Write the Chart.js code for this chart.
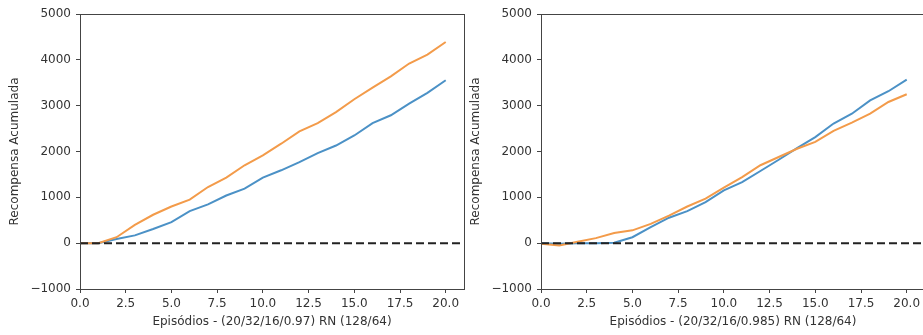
<!DOCTYPE html>
<html>
<head>
<meta charset="utf-8">
<script src="https://cdn.jsdelivr.net/npm/chart.js@4"></script>
<style>
  html, body { margin: 0; padding: 0; background: #fff; overflow: hidden; }
  body { width: 923px; height: 335px; position: relative; }
  canvas { position: absolute; top: 0; }
  #leftChart { left: 0; }
  #rightChart { left: 461px; }
</style>
</head>
<body>
<canvas id="leftChart" width="470" height="335"></canvas>
<canvas id="rightChart" width="470" height="335"></canvas>
<script>
  // episodios (x)
  const episodes = [0, 1, 2, 3, 4, 5, 6, 7, 8, 9, 10, 11, 12, 13, 14, 15, 16, 17, 18, 19, 20];

  // grafico esquerdo - (20/32/16/0.97)
  const leftBlue = [0, 0, 90, 170, 310, 460, 700, 845, 1040, 1190, 1430, 1590, 1770, 1965, 2130, 2350, 2620, 2790, 3045, 3280, 3555];
  const leftOrange = [0, 0, 130, 400, 620, 800, 950, 1225, 1430, 1700, 1915, 2170, 2440, 2620, 2860, 3140, 3395, 3640, 3920, 4115, 4390];

  // grafico direito - (20/32/16/0.985)
  const rightBlue = [0, -10, 0, 0, 10, 130, 350, 555, 700, 895, 1150, 1330, 1575, 1820, 2075, 2315, 2610, 2825, 3115, 3315, 3570];
  const rightOrange = [-10, -50, 30, 110, 220, 280, 420, 600, 800, 970, 1210, 1440, 1700, 1880, 2060, 2210, 2450, 2630, 2825, 3080, 3250];

  // eixos
  const xMin = 0;
  const xMax = 21;
  const xTickValues = [0, 2.5, 5, 7.5, 10, 12.5, 15, 17.5, 20];
  const yMin = -1000;
  const yMax = 5000;
  const yStep = 1000;
  const baseline = 0;

  const yTitle = "Recompensa Acumulada";
  const leftXTitle = "Episódios - (20/32/16/0.97) RN (128/64)";
  const rightXTitle = "Episódios - (20/32/16/0.985) RN (128/64)";

  const tickColor = "#333";
  const frameColor = "#444";

  const toPoints = (ys) => ys.map((y, i) => ({ x: episodes[i], y: y }));

  // moldura completa como no matplotlib
  const framePlugin = {
    id: "frame",
    afterDraw(chart) {
      const { ctx, chartArea } = chart;
      ctx.save();
      ctx.strokeStyle = frameColor;
      ctx.lineWidth = 1;
      ctx.strokeRect(
        Math.round(chartArea.left) + 0.5,
        Math.round(chartArea.top) + 0.5,
        Math.round(chartArea.right - chartArea.left),
        Math.round(chartArea.bottom - chartArea.top)
      );
      ctx.restore();
    },
  };

  function makeChart(canvasId, blue, orange, xTitle) {
    return new Chart(document.getElementById(canvasId), {
      type: "line",
      data: {
        datasets: [
          {
            label: "azul",
            data: toPoints(blue),
            borderColor: "#4b91c6",
            borderWidth: 2,
            pointRadius: 0,
            tension: 0,
            order: 2,
          },
          {
            label: "laranja",
            data: toPoints(orange),
            borderColor: "#f39b4a",
            borderWidth: 2,
            pointRadius: 0,
            tension: 0,
            order: 1,
          },
          {
            label: "zero",
            data: [
              { x: xMin, y: baseline },
              { x: xMax, y: baseline },
            ],
            borderColor: "#222",
            borderWidth: 2,
            borderDash: [8, 4],
            pointRadius: 0,
            order: 0,
          },
        ],
      },
      options: {
        responsive: false,
        animation: false,
        maintainAspectRatio: false,
        layout: { padding: { top: 14, right: 6, left: 0, bottom: 0 } },
        scales: {
          x: {
            type: "linear",
            min: xMin,
            max: xMax,
            grid: {
              drawOnChartArea: false,
              drawTicks: true,
              tickLength: 4,
              tickColor: frameColor,
            },
            border: { color: frameColor },
            ticks: {
              padding: 4,
              maxRotation: 0,
              autoSkip: false,
              color: tickColor,
              font: { family: "DejaVu Sans", size: 12 },
              callback: (v) => v.toFixed(1),
            },
            afterBuildTicks: (axis) => {
              axis.ticks = xTickValues.map((v) => ({ value: v }));
            },
            afterFit: (axis) => {
              axis.height = 46;
            },
            title: {
              display: true,
              text: xTitle,
              color: tickColor,
              padding: { top: 0, bottom: 6 },
              font: { family: "DejaVu Sans", size: 12 },
            },
          },
          y: {
            min: yMin,
            max: yMax,
            grid: {
              drawOnChartArea: false,
              drawTicks: true,
              tickLength: 4,
              tickColor: frameColor,
            },
            border: { color: frameColor },
            ticks: {
              stepSize: yStep,
              padding: 5,
              color: tickColor,
              font: { family: "DejaVu Sans", size: 12 },
              callback: (v) => (v < 0 ? "\u2212" + Math.abs(v) : String(v)),
            },
            afterFit: (axis) => {
              axis.width = 80;
            },
            title: {
              display: true,
              text: yTitle,
              color: tickColor,
              padding: { top: 8, bottom: 0 },
              font: { family: "DejaVu Sans", size: 12 },
            },
          },
        },
        plugins: {
          legend: { display: false },
          tooltip: { enabled: false },
        },
      },
      plugins: [framePlugin],
    });
  }

  makeChart("leftChart", leftBlue, leftOrange, leftXTitle);
  makeChart("rightChart", rightBlue, rightOrange, rightXTitle);
</script>
</body>
</html>
